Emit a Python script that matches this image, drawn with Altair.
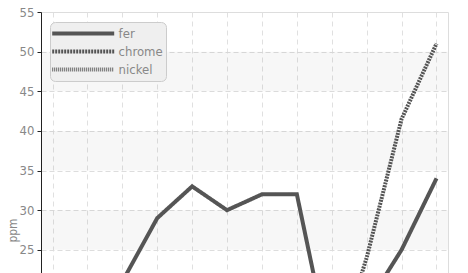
import altair as alt
import pandas as pd

months = ["janv.", "févr.", "mars", "avr.", "mai", "juin",
          "juil.", "août", "sept.", "oct.", "nov.", "déc."]
fer = [16, 18, 21, 29, 33, 30, 32, 32, 11, 18, 25, 34]
chrome = [12, 14, 13, 15, 16, 14, 15, 13, 10, 24, 41.5, 51]
nickel = [8, 9, 10, 11, 12, 10, 11, 9, 7, 12, 17, 20]
series = ["fer", "chrome", "nickel"]
band_lo = [5, 15, 25, 35, 45]
band_hi = [10, 20, 30, 40, 50]
y_ticks = [25, 30, 35, 40, 45, 50, 55]

rows = []
for name, vals in zip(series, [fer, chrome, nickel]):
    for m, v in zip(months, vals):
        rows.append({"mois": m, "ppm": v, "serie": name})
df = pd.DataFrame(rows)
bands = pd.DataFrame({"lo": band_lo, "hi": band_hi})

W, H = 407, 436
yscale = alt.Scale(domain=[0, 55], nice=False, zero=False)
FONT = "'DejaVu Sans Condensed', 'Liberation Sans Narrow', Roboto, sans-serif"

yaxis = alt.Axis(values=y_ticks, title="ppm", grid=True, gridDash=[5, 3],
                 gridColor="#dddddd", domainColor="#222222", tickColor="#222222",
                 tickSize=4, labelColor="#888888", labelFont=FONT,
                 labelFontSize=13, labelPadding=3, titleColor="#888888",
                 titleFont=FONT, titleFontSize=12, titleFontWeight="normal",
                 titleX=-29, titleY=218, titleAngle=270, titleAlign="center",
                 titleBaseline="middle")

band_layer = alt.Chart(bands).mark_rect(color="#000000", opacity=0.03).encode(
    y=alt.Y("lo:Q", scale=yscale, axis=yaxis, title="ppm"),
    y2="hi:Q",
    x=alt.value(0),
    x2=alt.value(W),
)

r = 6.2
leg = alt.Legend(
    title=None, orient="none", legendX=9, legendY=10,
    symbolType="M-1.5,0H8.5", symbolSize=r * r * 4,
    fillColor="#efefef", strokeColor="#cccccc", cornerRadius=5, padding=3,
    labelFont=FONT, labelFontSize=13, labelColor="#888888", labelOffset=8 * r - 1,
    rowPadding=1,
)

lines = alt.Chart(df).mark_line(strokeCap="butt", strokeJoin="miter").encode(
    x=alt.X("mois:N", sort=months, scale=alt.Scale(type="point", padding=0.33),
            axis=alt.Axis(title=None, grid=True, gridDash=[5, 4], gridColor="#e0e0e0",
                          domain=False, ticks=False, labels=False)),
    y=alt.Y("ppm:Q", scale=yscale, axis=yaxis, title="ppm"),
    color=alt.Color("serie:N", scale=alt.Scale(domain=series, range=["#555555", "#555555", "#666666"]), legend=leg),
    strokeDash=alt.StrokeDash("serie:N", scale=alt.Scale(domain=series, range=[[1, 0], [2, 1], [1, 1]]), legend=leg),
    strokeWidth=alt.StrokeWidth("serie:N", scale=alt.Scale(domain=series, range=[4, 4, 2.5]), legend=leg),
)

chart = alt.layer(band_layer, lines).properties(
    width=W, height=H,
    autosize=alt.AutoSizeParams(type="none"),
    padding={"left": 33, "top": 4, "right": 12, "bottom": 30},
).configure_view(strokeWidth=0).configure(background="white")

chart.save("out.html", embed_options={"renderer": "svg", "actions": False})
